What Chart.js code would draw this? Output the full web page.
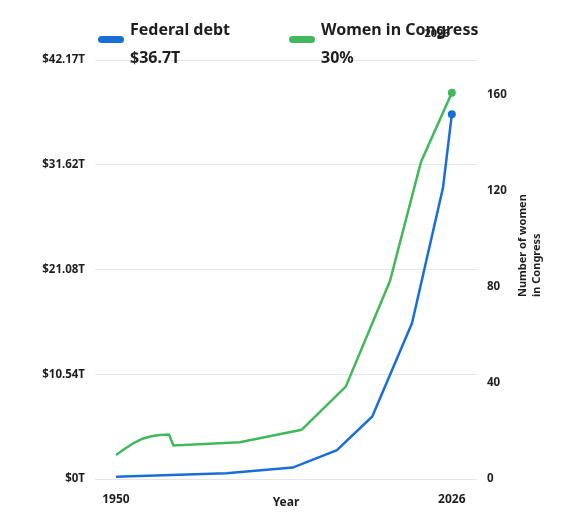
<!DOCTYPE html>
<html>
<head>
<meta charset="utf-8">
<title>Federal debt and women in Congress</title>
<script src="https://cdn.jsdelivr.net/npm/chart.js@4.4.1/dist/chart.umd.min.js"></script>
<style>
  html, body { margin: 0; padding: 0; background: #fff; }
  #chart { display: block; }
</style>
</head>
<body>
<canvas id="chart" width="581" height="512"></canvas>
<script>
// data
const debtYears = [1950, 1975, 1990, 2000, 2008, 2017, 2024, 2026];
const debtValues = [0.23, 0.57, 1.15, 2.9, 6.3, 15.7, 29.3, 36.7]; // trillions

const womenYears = [1950, 1952, 1954, 1956, 1958, 1960, 1962, 1963, 1978, 1992, 2002, 2012, 2019, 2026];
const womenValues = [10, 12.6, 15, 16.8, 17.8, 18.3, 18.5, 14, 15.3, 20.5, 38.5, 82.5, 132, 161];

const debtTicks = [0, 10.54, 21.08, 31.62, 42.17];
const debtTickLabels = ['$0T', '$10.54T', '$21.08T', '$31.62T', '$42.17T'];
const womenTicks = [0, 40, 80, 120, 160];
const yearTicks = [1950, 2026];

const seriesNames = ['Federal debt', 'Women in Congress'];
const seriesLatest = ['$36.7T', '30%'];
const hoverYear = '2026';

const BLUE = '#1a6fd6';
const GREEN = '#41b85c';
const TEXT = '#1e1e1e';
const FONT = '"Noto Sans", sans-serif';

Chart.defaults.font.family = FONT;
Chart.defaults.font.weight = 'bold';
Chart.defaults.color = TEXT;

function toPoints(xs, ys) {
    return xs.map((x, i) => ({ x: x, y: ys[i] }));
}

// only the latest value gets a dot
function lastDot(ctx) {
    return ctx.dataIndex === ctx.dataset.data.length - 1 ? 4 : 0;
}

// legend with latest values + rotated right axis title
const overlayPlugin = {
    id: 'overlay',
    afterDraw(chart) {
        const c = chart.ctx;
        const colors = [BLUE, GREEN];
        const xs = [98, 289];
        c.save();
        colors.forEach((col, i) => {
            c.fillStyle = col;
            c.beginPath();
            c.roundRect(xs[i], 36, 26, 7, 3.5);
            c.fill();
            c.fillStyle = TEXT;
            c.font = 'bold 16px ' + FONT;
            c.textAlign = 'left';
            c.textBaseline = 'alphabetic';
            c.fillText(seriesNames[i], xs[i] + 32, 35);
            c.fillText(seriesLatest[i], xs[i] + 32, 63);
        });

        // hover label left over the legend
        c.font = 'bold 11px ' + FONT;
        c.textAlign = 'center';
        c.fillText(hoverYear, 437, 37);

        // right axis title, reads bottom to top
        c.translate(523, 297);
        c.rotate(-Math.PI / 2);
        c.font = 'bold 11px ' + FONT;
        c.textAlign = 'left';
        c.textBaseline = 'middle';
        c.fillText('Number of women', 0, 0);
        c.fillText('in Congress', 0, 14);
        c.restore();
    }
};

new Chart(document.getElementById('chart'), {
    type: 'line',
    data: {
        datasets: [{
            label: seriesNames[0],
            data: toPoints(debtYears, debtValues),
            yAxisID: 'yDebt',
            borderColor: BLUE,
            backgroundColor: BLUE,
            borderWidth: 2.5,
            pointRadius: lastDot,
            pointBorderWidth: 0,
            tension: 0
        }, {
            label: seriesNames[1],
            data: toPoints(womenYears, womenValues),
            yAxisID: 'yWomen',
            borderColor: GREEN,
            backgroundColor: GREEN,
            borderWidth: 2.5,
            pointRadius: lastDot,
            pointBorderWidth: 0,
            tension: 0
        }]
    },
    options: {
        responsive: false,
        animation: false,
        layout: { padding: { top: 60, left: 0, right: 0, bottom: 0 } },
        plugins: {
            legend: { display: false },
            tooltip: { enabled: false }
        },
        scales: {
            x: {
                type: 'linear',
                min: 1945.25,
                max: 2031.7,
                grid: { display: false },
                border: { display: false },
                afterBuildTicks: (s) => { s.ticks = yearTicks.map(v => ({ value: v })); },
                afterFit: (s) => { s.height = 33; },
                ticks: {
                    padding: 5,
                    maxRotation: 0,
                    font: { size: 12, weight: 'bold' },
                    callback: (v) => String(v)
                },
                title: {
                    display: true,
                    text: 'Year',
                    padding: { top: 0, bottom: 2 },
                    font: { size: 12, weight: 'bold' }
                }
            },
            yDebt: {
                position: 'left',
                min: 0,
                max: 42.17,
                grid: { color: '#e6e6e6', lineWidth: 1, drawTicks: false },
                border: { display: false },
                afterBuildTicks: (s) => { s.ticks = debtTicks.map(v => ({ value: v })); },
                afterFit: (s) => { s.width = 95; },
                ticks: {
                    padding: 10,
                    font: { size: 11.5, weight: 'bold' },
                    callback: (v) => debtTickLabels[debtTicks.indexOf(v)]
                }
            },
            yWomen: {
                position: 'right',
                min: 0,
                max: 174.6,
                grid: { display: false, drawTicks: false },
                border: { display: false },
                afterBuildTicks: (s) => { s.ticks = womenTicks.map(v => ({ value: v })); },
                afterFit: (s) => { s.width = 104; },
                ticks: {
                    padding: 10,
                    font: { size: 11.5, weight: 'bold' },
                    callback: (v) => String(v)
                }
            }
        }
    },
    plugins: [overlayPlugin]
});
</script>
</body>
</html>
